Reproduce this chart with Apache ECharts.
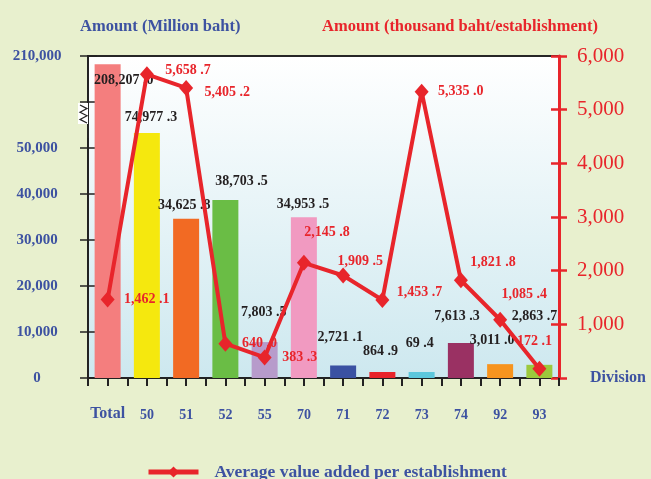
<!DOCTYPE html>
<html><head><meta charset="utf-8">
<script src="https://cdn.jsdelivr.net/npm/echarts@6/dist/echarts.min.js"></script>
<style>html,body{margin:0;padding:0;background:#e8f0ce;} #c{width:651px;height:479px;}</style>
</head><body><div id="c"></div>
<script>
// ---- data ----
const categories = ['Total', '50', '51', '52', '55', '70', '71', '72', '73', '74', '92', '93'];
const amountValues = [208207.0, 74977.3, 34625.8, 38703.5, 7803.5, 34953.5, 2721.1, 864.9, 69.4, 7613.3, 3011.0, 2863.7];
const averageValues = [1462.1, 5658.7, 5405.2, 640.0, 383.3, 2145.8, 1909.5, 1453.7, 5335.0, 1821.8, 1085.4, 172.1];
const leftTickLabels = [0, 10000, 20000, 30000, 40000, 50000, 210000];
const rightTickLabels = [1000, 2000, 3000, 4000, 5000, 6000];
const seriesName = 'Average value added per establishment';

// ---- styles / layout ----
const barColors = ['#f47e7e', '#f5e80e', '#f26a23', '#6abd45', '#b79bcb', '#f19ac1', '#3a51a2', '#e8232a', '#5cc7dc', '#9a3163', '#f7941e', '#9cc93d'];
const barLabelOffsets = [[16, 28], [4, -4], [-2, -1], [16, -7], [-1, -18], [-1, -1], [-3, -16], [-2, -9], [-2, -17], [-4, -15], [-8, -12], [-5, -36]];
const lineLabelOffsets = [[39, 0], [41, -4], [41, 4], [34, 0], [35, 0], [23, -30], [17, -14], [37, -8], [39, 0], [32, -18], [24, -25], [-5, -27]];
const leftTickValues = [0, 10000, 20000, 30000, 40000, 50000, 200000, 210000];
const yBreaks = [{start: 52000, end: 200000, gap: 8000}];
const BLUE = '#3d52a1', RED = '#e8252b', SERIF = 'Liberation Serif';

function fmt(v) {
  return v.toLocaleString('en-US', {minimumFractionDigits: 1, maximumFractionDigits: 1}).replace('.', ' .');
}

const chart = echarts.init(document.getElementById('c'));
chart.setOption({
  backgroundColor: '#e8f0ce',
  animation: false,
  textStyle: {fontFamily: SERIF},
  title: [
    {text: 'Amount (Million baht)', left: 80, top: 18, padding: 0, textStyle: {color: BLUE, fontFamily: SERIF, fontWeight: 'bold', fontSize: 16.5}},
    {text: 'Amount (thousand baht/establishment)', left: 322, top: 18, padding: 0, textStyle: {color: RED, fontFamily: SERIF, fontWeight: 'bold', fontSize: 16.5}}
  ],
  legend: {
    data: [seriesName], left: 146, top: 463, padding: 0, itemWidth: 50, itemHeight: 14, itemGap: 10,
    lineStyle: {width: 5},
    textStyle: {color: BLUE, fontFamily: SERIF, fontWeight: 'bold', fontSize: 17.5, padding: [0, 0, 0, 11]}
  },
  grid: [
    {left: 88, right: 92, top: 56, bottom: 101, show: true,
     backgroundColor: new echarts.graphic.LinearGradient(0, 0, 0, 1, [{offset: 0, color: '#ffffff'}, {offset: 1, color: '#cde8ef'}]),
     borderWidth: 2, borderColor: '#262626'}
  ],
  xAxis: [
    {type: 'category', data: categories,
     axisLine: {lineStyle: {color: '#222', width: 2}}, axisTick: {show: false},
     axisLabel: {interval: 0, margin: 27, formatter: (v) => v === 'Total' ? '{t|' + v + '}' : '{n|' + v + '}',
       rich: {t: {color: BLUE, fontFamily: SERIF, fontWeight: 'bold', fontSize: 16, lineHeight: 18},
              n: {color: BLUE, fontFamily: SERIF, fontWeight: 'bold', fontSize: 14, lineHeight: 18, padding: [3, 0, 0, 0]}}},
     name: 'Division', nameLocation: 'end', nameGap: 31,
     nameTextStyle: {color: BLUE, fontFamily: SERIF, fontWeight: 'bold', fontSize: 16}},
    {type: 'category', data: new Array(categories.length * 2).fill(''), position: 'bottom',
     axisLine: {show: false}, axisTick: {show: true, interval: 0, length: 8, lineStyle: {color: '#222', width: 2}},
     axisLabel: {show: false}}
  ],
  yAxis: [
    {type: 'value', min: 0, max: 210000, interval: 10000,
     breaks: yBreaks, breakArea: {show: false},
     splitLine: {show: false},
     axisLine: {show: true, lineStyle: {color: '#222', width: 2}},
     axisTick: {show: true, length: 8, lineStyle: {color: '#222', width: 1.5}, customValues: leftTickValues},
     axisLabel: {customValues: leftTickLabels, margin: 51, align: 'center', color: BLUE, fontFamily: SERIF, fontWeight: 'bold', fontSize: 15,
       formatter: (v) => v.toLocaleString('en-US')}},
    {type: 'value', position: 'right', min: 0, max: 6000, interval: 1000,
     splitLine: {show: false},
     axisLine: {show: true, lineStyle: {color: RED, width: 3}},
     axisTick: {show: true, length: 8, lineStyle: {color: RED, width: 2.5}},
     axisLabel: {margin: 18, color: RED, fontFamily: SERIF, fontSize: 21,
       formatter: (v) => rightTickLabels.includes(v) ? v.toLocaleString('en-US') : ''}},
    // inner halves of the crossing ticks
    {type: 'value', position: 'left', min: 0, max: 210000, interval: 10000,
     breaks: yBreaks, breakArea: {show: false}, splitLine: {show: false}, axisLine: {show: false},
     axisTick: {show: true, inside: true, length: 9, lineStyle: {color: '#222', width: 1.5}, customValues: leftTickValues},
     axisLabel: {show: false}},
    {type: 'value', position: 'right', min: 0, max: 6000, interval: 1000,
     splitLine: {show: false}, axisLine: {show: false},
     axisTick: {show: true, inside: true, length: 8, lineStyle: {color: RED, width: 2.5}},
     axisLabel: {show: false}}
  ],
  series: [
    {type: 'bar', name: 'Amount', xAxisIndex: 0, yAxisIndex: 0, barWidth: 26, barMinHeight: 6,
     data: amountValues.map((v, i) => ({value: v, itemStyle: {color: barColors[i]},
       label: {show: true, position: 'top', offset: barLabelOffsets[i]}})),
     label: {color: '#231f20', fontFamily: SERIF, fontWeight: 'bold', fontSize: 14, formatter: (p) => fmt(p.value)}},
    {type: 'line', name: seriesName, xAxisIndex: 0, yAxisIndex: 1, z: 5,
     symbol: 'diamond', symbolSize: [14, 16],
     lineStyle: {color: RED, width: 4}, itemStyle: {color: RED},
     data: averageValues.map((v, i) => ({value: v, label: {show: true, position: 'inside', offset: lineLabelOffsets[i]}})),
     label: {color: RED, fontFamily: SERIF, fontWeight: 'bold', fontSize: 14, formatter: (p) => fmt(p.value)}}
  ]
});

// axis-break glyph on the left axis, anchored at the break end through the axis scale
const by = chart.convertToPixel({yAxisIndex: 0}, yBreaks[0].end);
const zig = [];
for (let k = 0; k <= 5; k++) zig.push([k % 2 ? 87 : 80, by + 3 + k * 3.6]);
chart.setOption({
  graphic: [
    {type: 'rect', shape: {x: 78, y: by + 1, width: 10, height: 21}, style: {fill: '#ffffff'}, z: 100},
    {type: 'polyline', shape: {points: zig}, style: {stroke: '#222', lineWidth: 1.2, fill: null}, z: 101}
  ]
});
</script></body></html>
